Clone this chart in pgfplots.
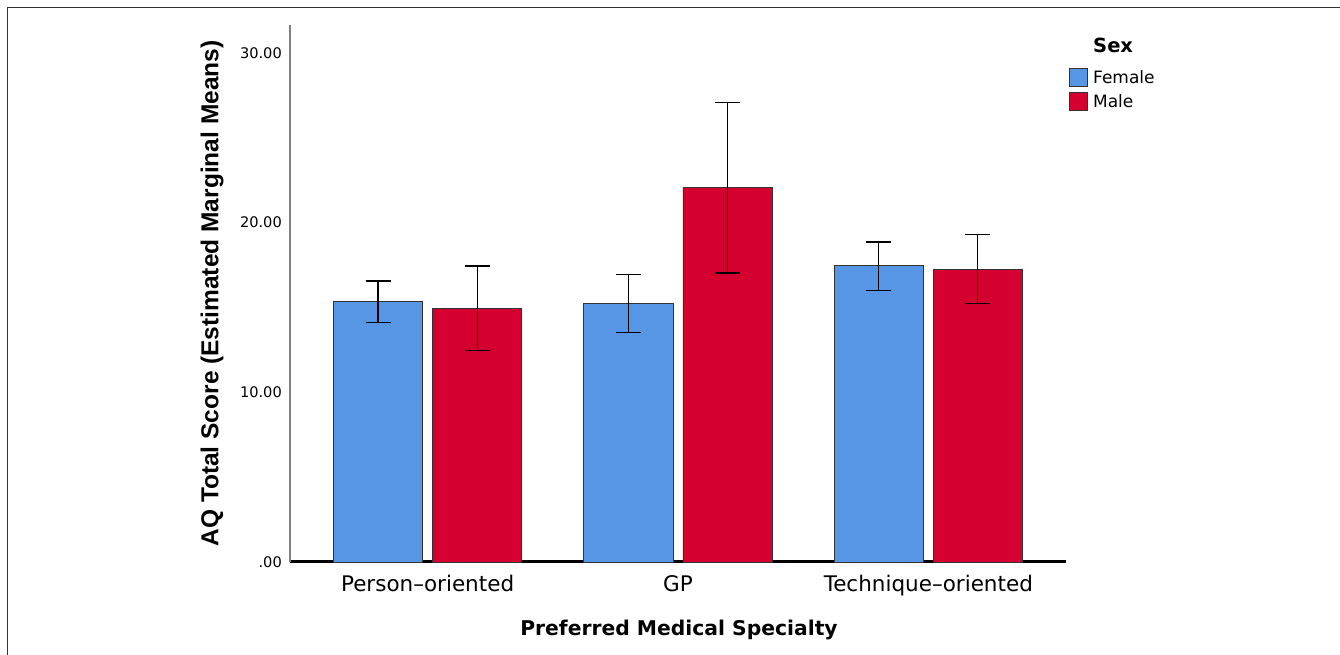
\documentclass[border=0pt]{standalone}
\usepackage{fontspec}
\setmainfont{DejaVu Sans}
\newfontfamily\libsans{Liberation Sans}
\usepackage{pgfplots}
\pgfplotsset{compat=1.18}
\usepackage{pgfplotstable}
\definecolor{fem}{RGB}{86,150,229}
\definecolor{mal}{RGB}{211,0,48}
\definecolor{framegray}{RGB}{50,50,50}

\pgfplotstableread{
x y ep em
0 15.34 1.22 1.21
1 15.24 1.71 1.73
2 17.45 1.41 1.44
}\female
\pgfplotstableread{
x y ep em
0 14.93 2.52 2.48
1 22.06 5.01 5.03
2 17.25 2.04 2.00
}\male

\begin{document}
\begin{tikzpicture}
\path[use as bounding box] (0pt,0pt) rectangle (1340pt,655pt);
\draw[framegray, line width=1.3pt] (7.5pt,0pt) -- (7.5pt,647.5pt) -- (1340pt,647.5pt);
\node[anchor=west, inner sep=0pt, font=\fontsize{19.5}{22}\selectfont\bfseries] at (1093pt,610pt) {Sex};
\begin{axis}[
  at={(290pt,93pt)}, anchor=south west,
  scale only axis, width=776pt, height=537pt,
  xmin=-0.5496, xmax=2.55, ymin=0, ymax=31.65,
  axis x line*=bottom, axis y line*=left,
  x axis line style={black, line width=3pt, -},
  y axis line style={gray, line width=1.2pt, -},
  major tick length=0pt,
  xtick={0,1,2},
  xticklabels={Person–oriented, GP, Technique–oriented},
  ytick={0,10,20,30},
  yticklabels={.00,10.00,20.00,30.00},
  xticklabel style={anchor=base, inner sep=0pt, yshift=-29.7pt, font=\fontsize{21.5}{24}\selectfont},
  yticklabel style={anchor=east, inner sep=0pt, xshift=-8pt, font=\fontsize{14.6}{17}\selectfont},
  xlabel={Preferred Medical Specialty},
  ylabel={AQ Total Score (Estimated Marginal Means)},
  xlabel style={at={(axis description cs:0.5013,-0.1266)}, anchor=center, font=\fontsize{20.3}{24}\selectfont\bfseries},
  ylabel style={at={(axis description cs:-0.1005,0.5)}, anchor=center, font=\fontsize{24.5}{28}\selectfont\libsans\bfseries},
  bar width=0.356,
  legend style={at={(axis description cs:1.0039,0.92)}, anchor=north west, draw=none, fill=none,
    inner sep=0pt, row sep=5pt, font=\fontsize{17}{20}\selectfont,
    nodes={inner sep=0pt}},
  legend cell align=left,
  clip=false,
]
\addplot[ybar, bar shift=0pt, fill=fem, draw=black!80, line width=0.9pt,
  error bars/.cd, y dir=both, y explicit,
  error bar style={black, line width=1.2pt},
  error mark options={rotate=90, black, line width=1.2pt, mark size=12.5pt},
  /pgfplots/legend image code/.code={\draw[fill=fem, draw=black!80, line width=0.9pt] (0pt,-9pt) rectangle (18pt,9pt); \path (23pt,0pt);}]
  table[x expr=\thisrow{x}-0.198, y=y, y error plus=ep, y error minus=em] {\female};
\addlegendentry{Female}
\addplot[ybar, bar shift=0pt, fill=mal, draw=black!80, line width=0.9pt,
  error bars/.cd, y dir=both, y explicit,
  error bar style={black, line width=1.2pt},
  error mark options={rotate=90, black, line width=1.2pt, mark size=12.5pt},
  /pgfplots/legend image code/.code={\draw[fill=mal, draw=black!80, line width=0.9pt] (0pt,-9pt) rectangle (18pt,9pt); \path (23pt,0pt);}]
  table[x expr=\thisrow{x}+0.198, y=y, y error plus=ep, y error minus=em] {\male};
\addlegendentry{Male}
\end{axis}
\end{tikzpicture}
\end{document}
